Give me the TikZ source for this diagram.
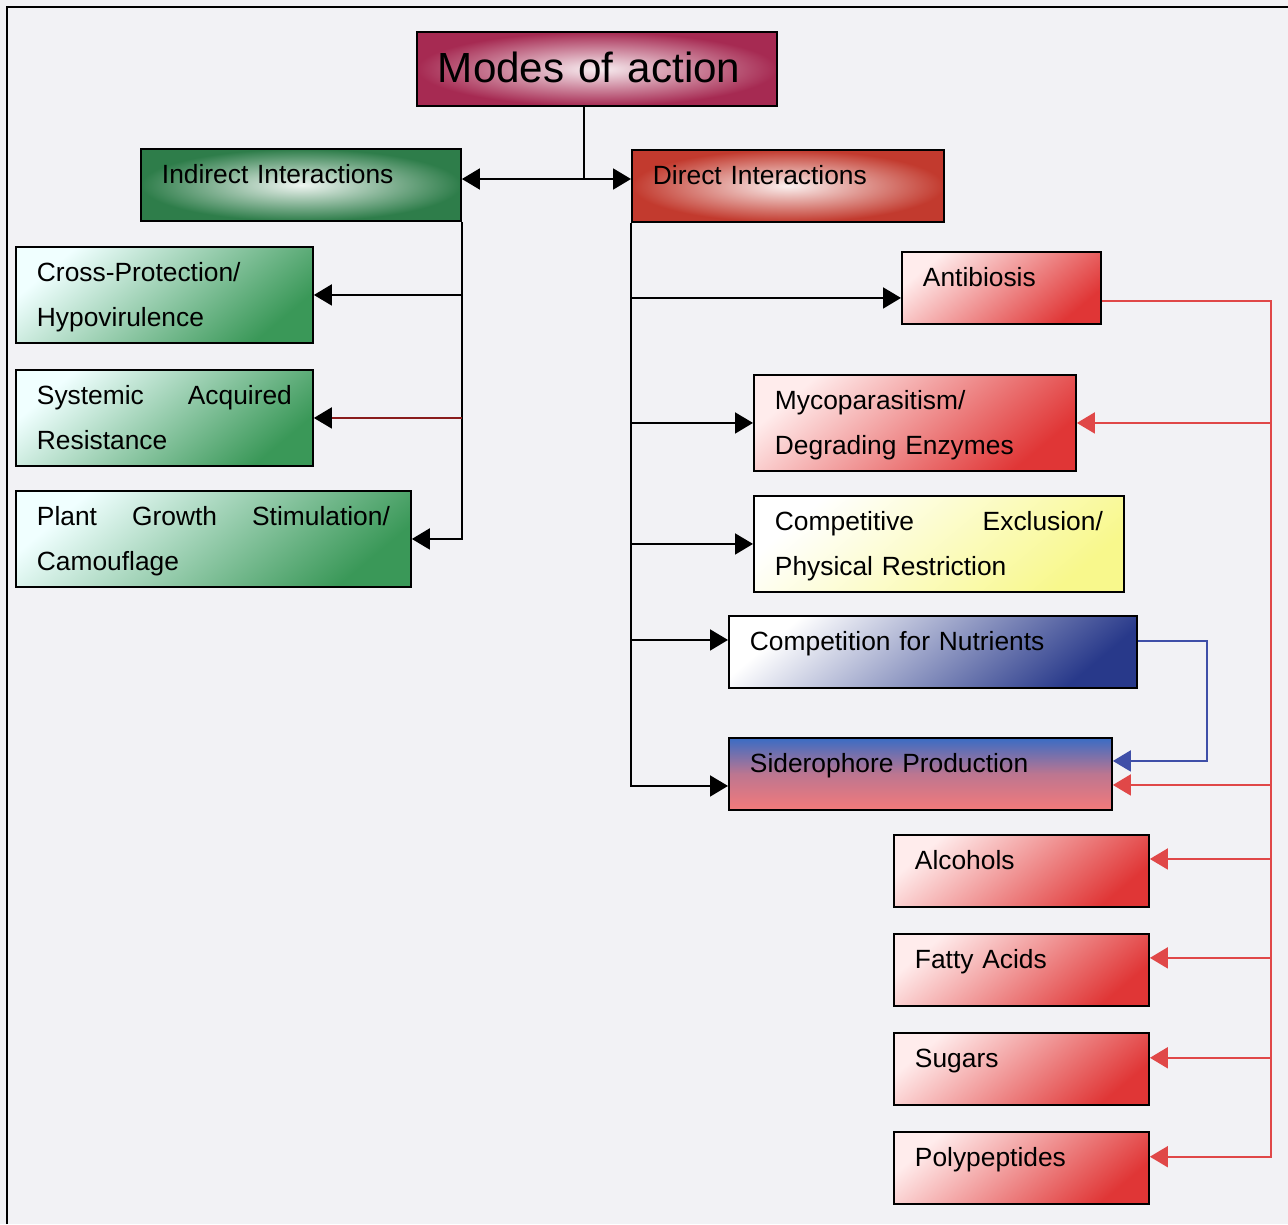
\documentclass[tikz,border=0pt]{standalone}
\usepackage{fontspec}
\setmainfont{Liberation Sans}
\usepackage{xcolor}
\usepackage{tikz}
\usetikzlibrary{positioning,arrows.meta,calc}
\definecolor{modesred}{HTML}{A62A52}
\definecolor{leafgreen}{HTML}{2E7D4A}
\definecolor{brickred}{HTML}{C23A2E}
\definecolor{boxgreen}{HTML}{3A9858}
\definecolor{boxred}{HTML}{E03636}
\definecolor{boxyellow}{HTML}{F8F88C}
\definecolor{boxblue}{HTML}{28398A}
\definecolor{sideblue}{HTML}{3A6CC4}
\definecolor{sidepink}{HTML}{F47A7A}
\definecolor{linkred}{HTML}{E04848}
\definecolor{linkblue}{HTML}{3F4FA8}
\definecolor{sarline}{HTML}{8A1C1C}
\definecolor{marble}{HTML}{F2F2F5}
\tikzset{
  box/.style={draw,line width=1.1pt,anchor=north west,align=left,
    inner xsep=0.42cm,inner ysep=0pt,text height=0.7cm,
    font=\fontsize{15}{25.5}\selectfont},
  one/.style={text depth=0.74cm},
  two/.style={text depth=1.22cm},
  head/.style={box,shade,inner color=white!92!#1,outer color=#1},
  gbox/.style={box,top color=cyan!6!white,bottom color=boxgreen,shading angle=40},
  rbox/.style={box,top color=pink!30!white,bottom color=boxred,shading angle=40},
  ybox/.style={box,top color=white,bottom color=boxyellow,shading angle=40},
  bbox/.style={box,top color=white,bottom color=boxblue,shading angle=40},
  sbox/.style={box,top color=sideblue,bottom color=sidepink,middle color=sidepink!70!sideblue},
  arr/.style={-{Triangle[length=0.36cm,width=0.42cm]},line width=1.1pt},
  redarr/.style={arr,draw=linkred},
  bluearr/.style={arr,draw=linkblue},
}
\begin{document}
\begin{tikzpicture}[x=0.02cm,y=-0.02cm]
\useasboundingbox (0,0) rectangle (1288,1224);
\fill[marble] (0,0) rectangle (1288,1224);
\draw[line width=1.1pt] (7,1224) -- (7,7) -- (1288,7);

% headings
\node[head=modesred,text height=1.02cm,text depth=0.46cm,text width=6.36cm,
  font=\fontsize{24}{28}\selectfont] (modes) at (416,31) {Modes of action};
\node[head=leafgreen,one,text width=5.56cm] (ind) at (140,148) {Indirect Interactions};
\node[head=brickred,one,text width=5.4cm] (dir) at (631,149) {Direct Interactions};

% indirect interactions
\node[gbox,two,text width=5.1cm] (cross) at (15,246) {Cross-Protection/\\Hypovirulence};
\node[gbox,two,text width=5.1cm] (sar) at (15,369) {Systemic\hfill Acquired\\Resistance};
\node[gbox,two,text width=7.06cm] (plant) at (15,490) {Plant\hfill Growth\hfill Stimulation/\\Camouflage};

% direct interactions
\node[rbox,one,text width=3.14cm] (anti) at (901,251) {Antibiosis};
\node[rbox,two,text width=5.6cm] (myco) at (753,374) {Mycoparasitism/\\Degrading Enzymes};
\node[ybox,two,text width=6.56cm] (excl) at (753,495) {Competitive\hfill Exclusion/\\Physical Restriction};
\node[bbox,one,text width=7.32cm] (nutr) at (728,615) {Competition for Nutrients};
\node[sbox,one,text width=6.82cm] (sider) at (728,737) {Siderophore Production};

% antibiotic compounds
\node[rbox,one,text width=4.26cm] (alc) at (893,834) {Alcohols};
\node[rbox,one,text width=4.26cm,below=0.5cm of alc.south west,anchor=north west] (fatty) {Fatty Acids};
\node[rbox,one,text width=4.26cm,below=0.5cm of fatty.south west,anchor=north west] (sugar) {Sugars};
\node[rbox,one,text width=4.26cm,below=0.5cm of sugar.south west,anchor=north west] (poly) {Polypeptides};

% links
\coordinate (split) at (584,179);
\draw[line width=1.1pt] (modes.south -| split) -- (split);
\draw[arr] (split) -- (split -| ind.east);
\draw[arr] (split) -- (split -| dir.west);

\coordinate (ibus) at (ind.south east);
\draw[arr] (ibus) |- (plant.east);
\draw[arr] (cross.east -| ibus) -- (cross.east);
\draw[arr,draw=sarline,-{Triangle[length=0.36cm,width=0.42cm,black]}] (sar.east -| ibus) -- (sar.east);

\coordinate (dbus) at (dir.south west);
\draw[arr] (dbus) |- ([yshift=-0.24cm]sider.west);
\draw[arr] ([yshift=-0.2cm]anti.west -| dbus) -- ([yshift=-0.2cm]anti.west);
\draw[arr] (myco.west -| dbus) -- (myco.west);
\draw[arr] (excl.west -| dbus) -- (excl.west);
\draw[arr] ([yshift=0.24cm]nutr.west -| dbus) -- ([yshift=0.24cm]nutr.west);

\coordinate (rx) at (1271,0);
\draw[redarr] ([yshift=-0.26cm]anti.east) -| ([yshift=0.22cm]poly.east -| rx) -- ([yshift=0.22cm]poly.east);
\draw[redarr] (myco.east -| rx) -- (myco.east);
\draw[redarr] ([yshift=-0.22cm]sider.east -| rx) -- ([yshift=-0.22cm]sider.east);
\draw[redarr] ([yshift=0.24cm]alc.east -| rx) -- ([yshift=0.24cm]alc.east);
\draw[redarr] ([yshift=0.24cm]fatty.east -| rx) -- ([yshift=0.24cm]fatty.east);
\draw[redarr] ([yshift=0.22cm]sugar.east -| rx) -- ([yshift=0.22cm]sugar.east);

\coordinate (bx) at (1207,0);
\draw[bluearr] ([yshift=0.22cm]nutr.east) -| ([yshift=0.26cm]sider.east -| bx) -- ([yshift=0.26cm]sider.east);
\end{tikzpicture}
\end{document}
